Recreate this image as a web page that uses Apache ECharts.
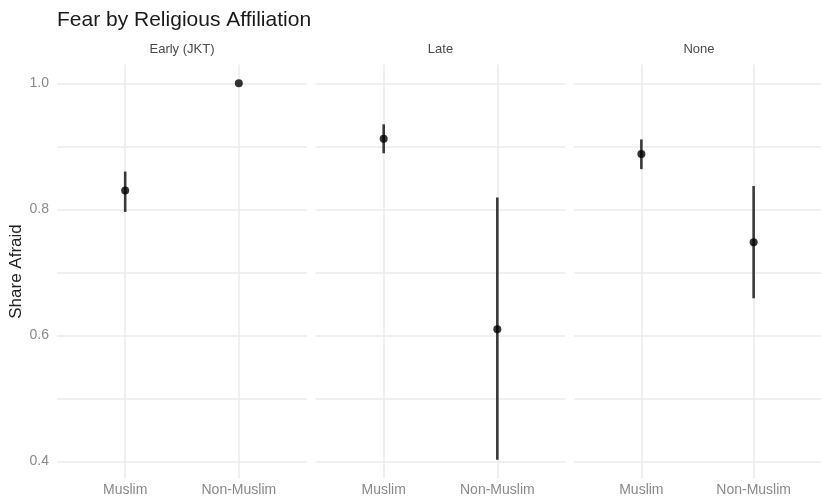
<!DOCTYPE html>
<html>
<head>
<meta charset="utf-8">
<script src="https://cdn.jsdelivr.net/npm/echarts@6/dist/echarts.min.js"></script>
<style>
  html, body { margin: 0; padding: 0; background: #fff; }
  #chart { width: 821px; height: 501px; }
</style>
</head>
<body>
<div id="chart"></div>
<script>
// Facets, groups and the estimated share afraid with its interval
const panels = ['Early (JKT)', 'Late', 'None'];
const groups = ['Muslim', 'Non-Muslim'];
const shareEarly = [0.830, 1.000];
const lowEarly   = [0.796, 1.000];
const highEarly  = [0.860, 1.000];
const shareLate  = [0.912, 0.610];
const lowLate    = [0.889, 0.403];
const highLate   = [0.935, 0.819];
const shareNone  = [0.888, 0.748];
const lowNone    = [0.864, 0.659];
const highNone   = [0.911, 0.837];
const yLabelTicks = [0.4, 0.6, 0.8, 1.0];
const yGridTicks  = [0.4, 0.5, 0.6, 0.7, 0.8, 0.9, 1.0];

const shares = [shareEarly, shareLate, shareNone];
const lows   = [lowEarly, lowLate, lowNone];
const highs  = [highEarly, highLate, highNone];

// y range padded by 5% of the data span on each side
const allLow  = Math.min(...[].concat(...lows));
const allHigh = Math.max(...[].concat(...highs));
const pad = 0.05 * (allHigh - allLow);
const yMin = allLow - pad, yMax = allHigh + pad;

const FONT = 'Liberation Sans, Arial, sans-serif';
const GRID_COLOR = '#ebebeb';
const panelLeft = [57, 315.5, 574];
const panelWidth = 250;
const plotTop = 64.5;
const plotHeight = 414;

const grids = [], xAxes = [], yAxes = [], series = [], graphics = [];

panels.forEach((name, p) => {
  grids.push({ left: panelLeft[p], top: plotTop, width: panelWidth, height: plotHeight, containLabel: false });
  xAxes.push({
    type: 'value', gridIndex: p, min: 0.4, max: 2.6,
    axisLine: { show: false },
    axisTick: { show: false, customValues: [1, 2] },
    axisLabel: {
      customValues: [1, 2],
      formatter: v => groups[Math.round(v) - 1] || '',
      color: '#8a8a8a', fontSize: 14, fontFamily: FONT, margin: 5
    },
    splitLine: { show: true, lineStyle: { color: GRID_COLOR, width: 1.5 } }
  });
  yAxes.push({
    type: 'value', gridIndex: p, min: yMin, max: yMax,
    name: p === 0 ? 'Share Afraid' : '',
    nameLocation: 'middle', nameGap: 32, nameRotate: 90,
    nameTextStyle: { color: '#222', fontSize: 17, fontFamily: FONT },
    axisLine: { show: false },
    axisTick: { show: false, customValues: yGridTicks },
    axisLabel: {
      show: p === 0,
      customValues: yLabelTicks,
      formatter: v => v.toFixed(1),
      color: '#8a8a8a', fontSize: 14, fontFamily: FONT, margin: 8
    },
    splitLine: { show: true, lineStyle: { color: GRID_COLOR, width: 1.5 } }
  });

  const rangeData = groups.map((g, i) => [i + 1, lows[p][i], highs[p][i]]);
  series.push({
    type: 'custom', xAxisIndex: p, yAxisIndex: p,
    data: rangeData,
    renderItem: (params, api) => {
      const a = api.coord([api.value(0), api.value(1)]);
      const b = api.coord([api.value(0), api.value(2)]);
      return {
        type: 'line',
        shape: { x1: a[0], y1: a[1], x2: b[0], y2: b[1] },
        style: { stroke: '#3a3a3a', lineWidth: 2.6 }
      };
    },
    silent: true, z: 2
  });
  series.push({
    type: 'scatter', xAxisIndex: p, yAxisIndex: p,
    data: groups.map((g, i) => [i + 1, shares[p][i]]),
    symbol: 'circle', symbolSize: 8,
    itemStyle: { color: '#000' },
    silent: true, z: 3
  });

  graphics.push({
    type: 'text',
    x: panelLeft[p] + panelWidth / 2, y: 49,
    style: {
      text: name, fill: '#4a4a4a', fontSize: 13, fontFamily: FONT,
      textAlign: 'center', textVerticalAlign: 'middle'
    }
  });
});

const chart = echarts.init(document.getElementById('chart'), null, { renderer: 'canvas' });
chart.setOption({
  animation: false,
  backgroundColor: '#fff',
  title: {
    text: 'Fear by Religious Affiliation',
    left: 52, top: 5,
    textStyle: { color: '#1a1a1a', fontSize: 21, fontWeight: 'normal', fontFamily: FONT }
  },
  grid: grids,
  xAxis: xAxes,
  yAxis: yAxes,
  series: series,
  graphic: graphics
});
</script>
</body>
</html>
